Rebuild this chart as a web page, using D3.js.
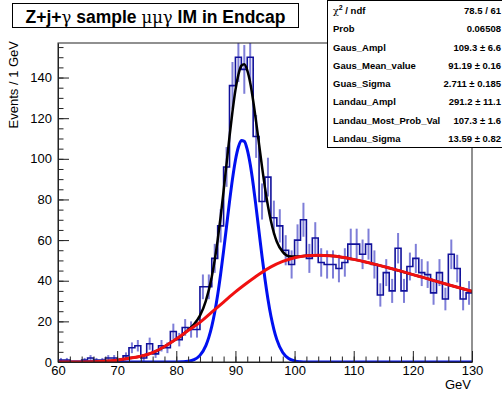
<!DOCTYPE html>
<html><head><meta charset="utf-8">
<script src="https://cdn.jsdelivr.net/npm/d3@7/dist/d3.min.js"></script>
<style>body{margin:0;background:#fff;overflow:hidden}svg{display:block}</style>
</head><body>
<script>
// ---- data ----
const binLowEdges = [60,61,62,63,64,65,66,67,68,69,70,71,72,73,74,75,76,77,78,79,
  80,81,82,83,84,85,86,87,88,89,90,91,92,93,94,95,96,97,98,99,
  100,101,102,103,104,105,106,107,108,109,110,111,112,113,114,115,116,117,118,119,
  120,121,122,123,124,125,126,127,128,129];
const binWidth = 1;
const counts = [1,1,0,0,1,2,1,1,2,2,1,3,7,8,2,9,4,8,7,15,
  11,17,16,16,37,37,51,67,96,136,150,144,150,111,79,91,71,67,55,48,
  60,70,51,61,49,48,48,46,49,58,58,53,58,48,33,44,35,56,35,47,
  51,44,43,34,44,31,53,46,31,34];

const totalX = [60,62,64,66,68,70,72,74,76,78,80,81,82,83,84,85,86,86.5,87,87.5,88,88.5,89,89.5,90,90.5,91,91.5,92,92.5,93,93.5,94,94.5,95,95.5,96,97,98,99,100,101,102,104,106,108,110,112,114,116,118,120,122,124,126,128,130];
const totalY = [0,0.02,0.05,0.15,0.4,0.9,1.8,2.8,4.6,7.6,11.3,13.2,15.8,18.6,22.8,30.1,42,50.2,60.1,71.5,84.2,97.6,110.9,123.2,133.8,141.4,145.8,146.5,143.5,137.4,128.6,118.2,107.1,96,85.7,76.8,69.4,59.2,54.2,52.1,51.9,52,52.3,52.6,52.3,51.6,50.5,49.2,47.8,46.3,44.7,43,41.4,39.7,38,36.4,34.8];

const gausX = [60,80,81,82,83,84,85,85.5,86,86.5,87,87.5,88,88.5,89,89.5,90,90.5,91,91.5,92,92.5,93,93.5,94,94.5,95,95.5,96,96.5,97,98,99,100,101,102,130];
const gausY = [0,0.02,0.1,0.35,1.14,3.25,8.07,12.1,17.5,24.5,33.1,43.3,54.7,66.8,78.9,90,99.3,105.8,109,108.6,104.5,97.3,87.5,76,63.9,51.9,40.7,30.9,22.6,16.1,11,4.66,1.72,0.56,0.16,0.04,0];

const landauX = [60,62,64,66,68,70,72,74,76,78,80,82,84,86,88,90,92,94,96,98,100,102,104,106,108,110,112,114,116,118,120,122,124,126,128,130];
const landauY = [0,0.02,0.05,0.15,0.4,0.9,1.8,2.8,4.6,7.6,11.3,15.5,19.5,24.5,29.5,34.5,39,43.2,46.8,49.5,51.3,52.3,52.6,52.3,51.6,50.5,49.2,47.8,46.3,44.7,43,41.4,39.7,38,36.4,34.8];

const xMajorTicks = [60,70,80,90,100,110,120,130];
const yMajorTicks = [0,20,40,60,80,100,120,140];

const statNames = ["χ² / ndf","Prob","Gaus_Ampl","Gaus_Mean_value","Guas_Sigma","Landau_Ampl","Landau_Most_Prob_Val","Landau_Sigma"];
const statValues = ["78.5 / 61","0.06508","109.3 ± 6.6","91.19 ± 0.16","2.711 ± 0.185","291.2 ± 11.1","107.3 ± 1.6","13.59 ± 0.82"];

const titleText = ["Z+j+", "γ", " sample  ", "μμγ", " IM in Endcap"];
const yTitle = "Events / 1 GeV";
const xTitle = "GeV";

// ---- drawing ----
const W = 502, H = 393;
const L = 58, R = 472, T = 43, B = 362;
const svg = d3.select("body").append("svg").attr("width", W).attr("height", H)
  .style("font-family", "'Liberation Sans', Arial, Helvetica, sans-serif");

const x = d3.scaleLinear().domain([60, 130]).range([L, R]);
const y = d3.scaleLinear().domain([0, 157]).range([B, T]);

svg.append("defs").append("clipPath").attr("id", "clip")
  .append("rect").attr("x", L).attr("y", T).attr("width", R - L).attr("height", B - T);

const plot = svg.append("g").attr("clip-path", "url(#clip)");

// error bars
plot.append("g").selectAll("line").data(counts.map((c, i) => ({c, x0: binLowEdges[i]})).filter(d => d.c > 0))
  .join("line")
  .attr("x1", d => x(d.x0 + binWidth / 2)).attr("x2", d => x(d.x0 + binWidth / 2))
  .attr("y1", d => y(d.c - Math.sqrt(d.c))).attr("y2", d => y(d.c + Math.sqrt(d.c)))
  .attr("stroke", "rgba(40,40,190,0.6)").attr("stroke-width", 2);

// step histogram
const stepPts = counts.map((c, i) => [binLowEdges[i], c]);
stepPts.push([binLowEdges[binLowEdges.length - 1] + binWidth, counts[counts.length - 1]]);
plot.append("path").datum(stepPts)
  .attr("d", d3.line().x(d => x(d[0])).y(d => y(d[1])).curve(d3.curveStepAfter))
  .attr("fill", "none").attr("stroke", "#10109a").attr("stroke-width", 1.6);

const lineGen = d3.line().x(d => x(d[0])).y(d => y(d[1])).curve(d3.curveMonotoneX);
plot.append("path").datum(totalX.map((v, i) => [v, totalY[i]]))
  .attr("d", lineGen).attr("fill", "none").attr("stroke", "#000").attr("stroke-width", 2.5);
plot.append("path").datum(gausX.map((v, i) => [v, gausY[i]]))
  .attr("d", lineGen).attr("fill", "none").attr("stroke", "#0010f0").attr("stroke-width", 3);
plot.append("path").datum(landauX.map((v, i) => [v, landauY[i]]))
  .attr("d", lineGen).attr("fill", "none").attr("stroke", "#f01010").attr("stroke-width", 3);

// frame
svg.append("rect").attr("x", L).attr("y", T).attr("width", R - L).attr("height", B - T)
  .attr("fill", "none").attr("stroke", "#222").attr("stroke-width", 1);

// x axis
const xMinor = [];
for (let v = 60; v <= 130; v += 2) xMinor.push(v);
svg.append("g").attr("transform", `translate(0,${B})`)
  .call(d3.axisBottom(x).tickValues(xMinor).tickSize(-5.5).tickFormat(""))
  .call(g => g.select(".domain").remove());
const xa = svg.append("g").attr("transform", `translate(0,${B})`)
  .call(d3.axisBottom(x).tickValues(xMajorTicks).tickSize(-11).tickSizeOuter(0).tickPadding(4).tickFormat(d3.format("d")));
xa.select(".domain").attr("stroke", "#222");
xa.selectAll("text").attr("font-size", 13).attr("fill", "#000").attr("font-family", "'Liberation Sans', Arial, sans-serif");

// y axis
const yMinor = [];
for (let v = 0; v <= 155; v += 5) yMinor.push(v);
svg.append("g").attr("transform", `translate(${L},0)`)
  .call(d3.axisLeft(y).tickValues(yMinor).tickSize(-5.5).tickFormat(""))
  .call(g => g.select(".domain").remove());
const ya = svg.append("g").attr("transform", `translate(${L},0)`)
  .call(d3.axisLeft(y).tickValues(yMajorTicks).tickSize(-11).tickSizeOuter(0).tickPadding(6).tickFormat(d3.format("d")));
ya.select(".domain").attr("stroke", "#222");
ya.selectAll("text").attr("font-size", 13).attr("fill", "#000").attr("font-family", "'Liberation Sans', Arial, sans-serif");
svg.selectAll(".tick line").attr("stroke", "#222");

// axis titles
svg.append("text").attr("transform", `translate(18,${T - 2}) rotate(-90)`)
  .attr("text-anchor", "end").attr("font-size", 13).attr("fill", "#000").text(yTitle);
svg.append("text").attr("x", R - 1).attr("y", 389).attr("text-anchor", "end")
  .attr("font-size", 13).attr("fill", "#000").text(xTitle);

// title box
svg.append("rect").attr("x", 12.5).attr("y", 3.5).attr("width", 286).attr("height", 24)
  .attr("fill", "#fff").attr("stroke", "#000").attr("stroke-width", 1);
const tt = svg.append("text").attr("x", 155.5).attr("y", 22.5).attr("text-anchor", "middle")
  .attr("font-size", 17.5).attr("fill", "#000");
titleText.forEach((s, i) => {
  const greek = (i === 1 || i === 3);
  tt.append("tspan").text(s)
    .attr("font-weight", greek ? "normal" : "bold")
    .attr("font-family", greek ? "'DejaVu Serif', 'Liberation Serif', serif" : "'Liberation Sans', Arial, sans-serif")
    .attr("font-size", greek ? 16.5 : 17.5);
});

// stats box
svg.append("rect").attr("x", 327.5).attr("y", 0.5).attr("width", 200).attr("height", 147)
  .attr("fill", "#fff").attr("stroke", "#000").attr("stroke-width", 1);
const rowY = d3.scaleLinear().domain([0, statNames.length - 1]).range([14, 142]);
statNames.forEach((n, i) => {
  const t = svg.append("text").attr("x", 333).attr("y", rowY(i)).attr("font-size", 9.5)
    .attr("font-weight", "bold").attr("fill", "#000");
  if (i === 0) {
    t.append("tspan").text("χ").attr("font-weight", "normal").attr("font-family", "'DejaVu Serif', serif");
    t.append("tspan").text("2").attr("font-size", 7).attr("dy", -4);
    t.append("tspan").text(" / ndf").attr("dy", 4);
  } else {
    t.text(n);
  }
  svg.append("text").attr("x", 501).attr("y", rowY(i)).attr("text-anchor", "end")
    .attr("font-size", 9.5).attr("font-weight", "bold").attr("fill", "#000").text(statValues[i]);
});
</script>
</body></html>
